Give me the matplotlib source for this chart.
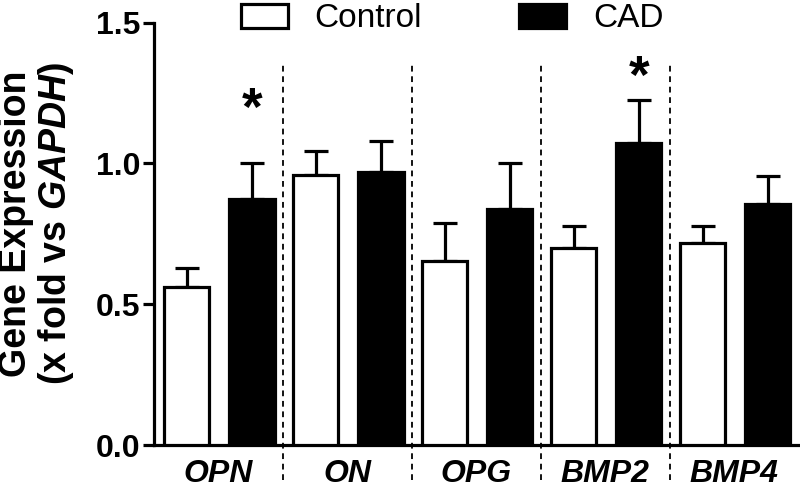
import numpy as np
import matplotlib
matplotlib.use('Agg')
import matplotlib.pyplot as plt
from matplotlib.patches import Patch

plt.rcParams['font.family'] = ['Liberation Sans', 'DejaVu Sans']
plt.rcParams['mathtext.fontset'] = 'custom'
plt.rcParams['mathtext.it'] = 'Liberation Sans:italic:bold'
plt.rcParams['mathtext.rm'] = 'Liberation Sans:bold'

# データ
genes = ['OPN', 'ON', 'OPG', 'BMP2', 'BMP4']
control_mean = [0.56, 0.958, 0.652, 0.70, 0.719]
control_err = [0.068, 0.086, 0.135, 0.079, 0.060]
cad_mean = [0.875, 0.970, 0.838, 1.071, 0.855]
cad_err = [0.125, 0.110, 0.162, 0.154, 0.101]
star_y = [1.185, None, None, 1.30, None]

x = np.arange(len(genes))
w = 0.35
lw = 2.3

fig = plt.figure(figsize=(8, 4.98), dpi=100)
ax = fig.add_axes([0.1925, 0.1064, 0.806, 0.848])

ax.bar(x - 0.245, control_mean, w, color='white', edgecolor='black', linewidth=lw, zorder=3)
ax.bar(x + 0.26, cad_mean, w, color='black', edgecolor='black', linewidth=lw, zorder=3)

# 上側だけのエラーバー
ax.errorbar(x - 0.245, control_mean, yerr=[np.zeros(len(x)), control_err], fmt='none',
            ecolor='black', elinewidth=lw, capsize=8.3, capthick=lw, zorder=2)
ax.errorbar(x + 0.26, cad_mean, yerr=[np.zeros(len(x)), cad_err], fmt='none',
            ecolor='black', elinewidth=lw, capsize=8.3, capthick=lw, zorder=2)

for i, sy in enumerate(star_y):
    if sy is not None:
        ax.text(x[i] + 0.26, sy, '*', ha='center', va='center', fontsize=38, fontweight='bold')

# 区切りの点線
for b in x[1:] - 0.5:
    ax.plot([b, b], [-0.125, 1.357], color='black', lw=1.3, linestyle=(0, (3.2, 2.6)),
            clip_on=False, zorder=1)

ax.set_xlim(-0.5, 4.5)
ax.set_ylim(0, 1.5)
ax.set_yticks([0.0, 0.5, 1.0, 1.5])
ax.set_yticklabels(['0.0', '0.5', '1.0', '1.5'], fontsize=23, fontweight='bold')
ax.set_xticks(x)
ax.set_xticklabels(genes, fontsize=23, fontweight='bold', fontstyle='italic')
ax.tick_params(axis='x', length=0, pad=10)
ax.tick_params(axis='y', length=8, width=lw, pad=2)

for s in ['top', 'right']:
    ax.spines[s].set_visible(False)
for s in ['left', 'bottom']:
    ax.spines[s].set_linewidth(lw)

ax.set_ylabel('Gene Expression\n(x fold vs $GAPDH$)', fontsize=27, fontweight='bold', linespacing=1.05)
ax.yaxis.set_label_coords(-0.121, 0.525)

handles = [Patch(facecolor='white', edgecolor='black', linewidth=lw, label='Control'),
           Patch(facecolor='black', edgecolor='black', linewidth=lw, label='CAD')]
fig.legend(handles=handles, loc='center', bbox_to_anchor=(0.565, 0.962), ncol=2, frameon=False,
           fontsize=24, handlelength=1.42, handleheight=0.75, handletextpad=0.8, columnspacing=2.9,
           borderaxespad=0, borderpad=0)

fig.savefig('out.png', dpi=100)
